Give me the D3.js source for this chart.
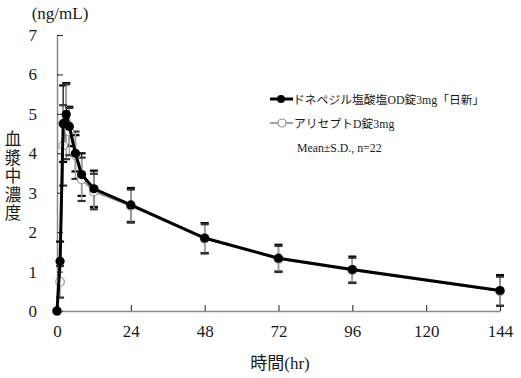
<!DOCTYPE html>
<html><head><meta charset="utf-8">
<script src="https://cdn.jsdelivr.net/npm/d3@7"></script>
<style>
html,body{margin:0;padding:0;background:#fff;}
text{font-family:"Liberation Serif","Noto Sans CJK JP",serif;fill:#1a1a1a;}
</style></head>
<body>
<script>
const times = [0,1,2,3,4,6,8,12,24,48,72,96,144];
const testMean = [0,1.26,4.75,4.99,4.68,4.0,3.46,3.10,2.69,1.85,1.34,1.05,0.52];
const testSD   = [0,0.5,0.97,0.79,0.5,0.46,0.54,0.46,0.43,0.38,0.34,0.33,0.39];
const refMean  = [0,0.74,4.2,4.8,4.55,3.95,3.34,3.03,2.66,1.83,1.32,1.03,0.50];
const refSD    = [0,0.4,1.02,0.95,0.6,0.6,0.55,0.45,0.42,0.37,0.33,0.32,0.37];
const xTicks = [0,24,48,72,96,120,144];
const yTicks = [0,1,2,3,4,5,6,7];
const seriesNames = ["ドネペジル塩酸塩OD錠3mg「日新」","アリセプトD錠3mg"];
const note = "Mean±S.D., n=22";
const yUnit = "(ng/mL)";
const yTitle = "血漿中濃度";
const xTitle = "時間(hr)";

const W=521,H=378;
const svg=d3.select("body").append("svg").attr("width",W).attr("height",H);
svg.append("rect").attr("width",W).attr("height",H).attr("fill","#fff");

const x=d3.scaleLinear().domain([0,144]).range([57,500]);
const y=d3.scaleLinear().domain([0,7]).range([311,35]);

// axes
const axisColor="#8a8a8a";
const xAxis=svg.append("g").attr("transform",`translate(0,${y(0)})`)
  .call(d3.axisBottom(x).tickValues(xTicks).tickFormat(d3.format("d")).tickSizeInner(-6).tickSizeOuter(0).tickPadding(14));
xAxis.select(".domain").attr("stroke",axisColor).attr("stroke-width",1.5);
xAxis.selectAll(".tick line").attr("stroke","#222").attr("stroke-width",1);
xAxis.selectAll(".tick text").attr("font-size",17).attr("font-family","Liberation Serif").attr("fill","#1a1a1a");

const yAxis=svg.append("g").attr("transform",`translate(${x(0)},0)`)
  .call(d3.axisLeft(y).tickValues(yTicks).tickFormat(d3.format("d")).tickSizeInner(-6).tickSizeOuter(0).tickPadding(20));
yAxis.select(".domain").attr("stroke",axisColor).attr("stroke-width",1.5);
yAxis.selectAll(".tick line").attr("stroke","#222").attr("stroke-width",1);
yAxis.selectAll(".tick text").attr("font-size",17).attr("font-family","Liberation Serif").attr("fill","#1a1a1a");

// titles
svg.append("text").attr("x",60).attr("y",19).attr("text-anchor","middle").attr("font-size",17).text(yUnit);
svg.append("text").attr("x",280).attr("y",369).attr("text-anchor","middle").attr("font-size",17).text(xTitle);
const chars=Array.from(yTitle);
svg.append("g").selectAll("text").data(chars).join("text")
  .attr("x",13).attr("y",(d,i)=>145+i*18.5).attr("text-anchor","middle")
  .attr("font-size",16.5).attr("font-family","Noto Sans CJK JP").text(d=>d);

function errBars(mean,sd,col,capCol,w){
  const g=svg.append("g");
  const data=times.map((t,i)=>({t,m:mean[i],s:sd[i]})).filter(d=>d.s>0);
  g.selectAll("line.v").data(data).join("line")
    .attr("x1",d=>x(d.t)).attr("x2",d=>x(d.t))
    .attr("y1",d=>y(d.m+d.s)).attr("y2",d=>y(Math.max(0,d.m-d.s)))
    .attr("stroke",col).attr("stroke-width",w);
  ["top","bot"].forEach(k=>{
    g.selectAll("line."+k).data(data).join("line")
      .attr("x1",d=>x(d.t)-4).attr("x2",d=>x(d.t)+4)
      .attr("y1",d=>y(k==="top"?d.m+d.s:Math.max(0,d.m-d.s)))
      .attr("y2",d=>y(k==="top"?d.m+d.s:Math.max(0,d.m-d.s)))
      .attr("stroke",capCol).attr("stroke-width",2.2);
  });
}
errBars(testMean,testSD,"#111","#000",1.3);
errBars(refMean,refSD,"#a0a0a0","#333",1.5);

const line=d3.line().x(d=>x(d[0])).y(d=>y(d[1]));
svg.append("path").datum(times.map((t,i)=>[t,refMean[i]])).attr("d",line)
  .attr("fill","none").attr("stroke","#8c8c8c").attr("stroke-width",1.6);
svg.append("g").selectAll("circle").data(times.map((t,i)=>[t,refMean[i]])).join("circle")
  .attr("cx",d=>x(d[0])).attr("cy",d=>y(d[1])).attr("r",4.3)
  .attr("fill","#fff").attr("stroke","#9a9a9a").attr("stroke-width",1.2);
svg.append("path").datum(times.map((t,i)=>[t,testMean[i]])).attr("d",line)
  .attr("fill","none").attr("stroke","#000").attr("stroke-width",3);
svg.append("g").selectAll("circle").data(times.map((t,i)=>[t,testMean[i]])).join("circle")
  .attr("cx",d=>x(d[0])).attr("cy",d=>y(d[1])).attr("r",4.6).attr("fill","#000");

// legend
const lg=svg.append("g");
lg.append("line").attr("x1",270).attr("x2",293).attr("y1",99).attr("y2",99).attr("stroke","#000").attr("stroke-width",3);
lg.append("circle").attr("cx",281).attr("cy",99).attr("r",4).attr("fill","#000");
lg.append("text").attr("x",293).attr("y",104).attr("font-size",11.8).text(seriesNames[0]);
lg.append("line").attr("x1",270).attr("x2",293).attr("y1",123).attr("y2",123).attr("stroke","#8c8c8c").attr("stroke-width",1.6);
lg.append("circle").attr("cx",282).attr("cy",123).attr("r",4).attr("fill","#fff").attr("stroke","#8c8c8c").attr("stroke-width",1.2);
lg.append("text").attr("x",294).attr("y",128).attr("font-size",11.8).text(seriesNames[1]);
lg.append("text").attr("x",297).attr("y",152).attr("font-size",11.8).text(note);
</script>
</body></html>
